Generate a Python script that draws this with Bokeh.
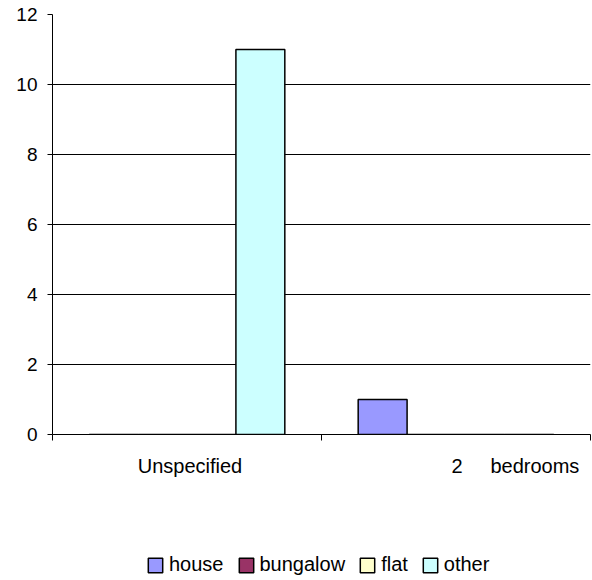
import numpy as np
from bokeh.plotting import figure
from bokeh.layouts import column
from bokeh.models import Range1d, FixedTicker, Legend, LegendItem
from bokeh.embed import file_html
from bokeh.resources import INLINE

# ---- data ----
categories = ["Unspecified", "2\u00a0\u00a0\u00a0\u00a0\u00a0bedrooms"]
series_names = ["house", "bungalow", "flat", "other"]
house = [0, 1]
bungalow = [0, 0]
flat = [0, 0]
other = [11, 0]
series_colors = ["#9999FF", "#993366", "#FFFFCC", "#CCFFFF"]
y_ticks = [0, 2, 4, 6, 8, 10, 12]
label_positions = [0.511, 1.721]

FONT = "Liberation Sans"
FS = "19px"
FS_X = "20px"

p = figure(width=592, height=500, output_backend="svg", toolbar_location=None,
           x_range=Range1d(0, len(categories)), y_range=Range1d(0, 12),
           min_border_left=52, min_border_right=2, min_border_top=14,
           min_border_bottom=66)
p.outline_line_color = None
p.background_fill_color = "white"
p.border_fill_color = "white"

n = len(series_names)
bw = 1.0 / (n + 1.5)
values = [house, bungalow, flat, other]
for i, (name, vals, col) in enumerate(zip(series_names, values, series_colors)):
    offset = (i - (n - 1) / 2) * bw
    xs = np.arange(len(categories)) + 0.5 + offset
    p.vbar(x=xs, top=vals, width=bw, bottom=0, fill_color=col,
           line_color="black", line_width=1.5)

# grid
p.xgrid.grid_line_color = None
p.ygrid.grid_line_color = "black"
p.ygrid.grid_line_width = 1
p.ygrid.ticker = FixedTicker(ticks=y_ticks)

# y axis
p.yaxis.ticker = FixedTicker(ticks=y_ticks)
p.yaxis.axis_line_color = "black"
p.yaxis.major_tick_line_color = "black"
p.yaxis.major_tick_out = 5
p.yaxis.major_tick_in = 0
p.yaxis.minor_tick_line_color = None
p.yaxis.major_label_standoff = 10
p.yaxis.major_label_text_font = FONT
p.yaxis.major_label_text_font_size = FS
p.yaxis.major_label_text_color = "black"

# x axis
p.xaxis.ticker = FixedTicker(ticks=label_positions, minor_ticks=list(range(len(categories) + 1)))
p.xaxis.major_label_overrides = {pos: lab for pos, lab in zip(label_positions, categories)}
p.xaxis.axis_line_color = "black"
p.xaxis.major_tick_line_color = None
p.xaxis.major_tick_out = 0
p.xaxis.major_tick_in = 0
p.xaxis.minor_tick_line_color = "black"
p.xaxis.minor_tick_out = 6
p.xaxis.minor_tick_in = 0
p.xaxis.major_label_standoff = 14
p.xaxis.major_label_text_font = FONT
p.xaxis.major_label_text_font_size = FS_X
p.xaxis.major_label_text_color = "black"

# ---- legend strip (proxy glyphs with no drawable data) ----
p2 = figure(width=592, height=80, output_backend="svg", toolbar_location=None,
            x_axis_location=None, y_axis_location=None,
            x_range=Range1d(0, 1), y_range=Range1d(0, 1),
            min_border_left=0, min_border_right=0, min_border_top=0,
            min_border_bottom=0)
p2.outline_line_color = None
p2.grid.visible = False
items = []
for name, col in zip(series_names, series_colors):
    r = p2.vbar(x=[np.nan], top=[np.nan], bottom=[np.nan], width=0.1,
                fill_color=col, line_color="black", line_width=1.5)
    items.append(LegendItem(label=name, renderers=[r]))
legend = Legend(items=items, orientation="horizontal", location=(94, 4),
                border_line_color=None, background_fill_alpha=0,
                label_text_font=FONT, label_text_font_size=FS_X,
                label_text_color="black",
                glyph_width=18, glyph_height=18, label_standoff=5,
                spacing=13, padding=0, margin=0)
p2.add_layout(legend, "center")

layout = column(p, p2, spacing=0)
open("out.html", "w").write(file_html(layout, INLINE))
